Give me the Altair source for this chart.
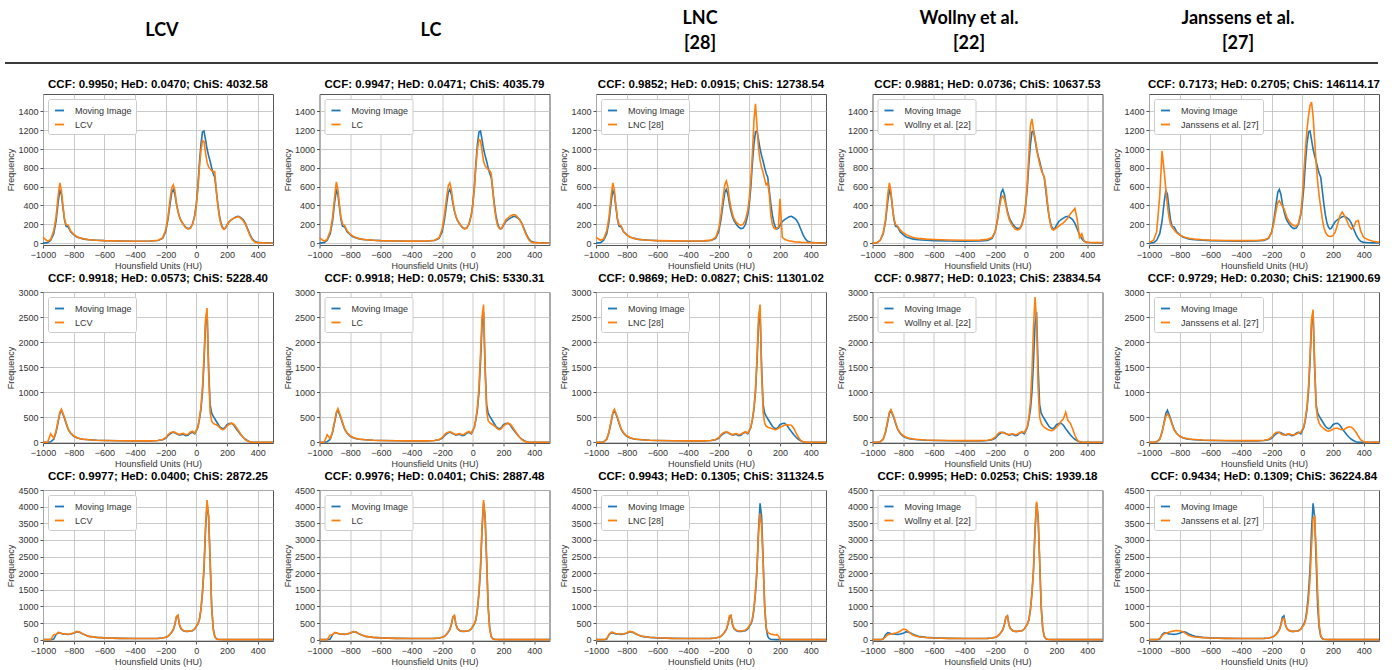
import altair as alt
import pandas as pd

# ---------------- data ----------------
X = ([-1000, -970, -950, -930, -915, -900, -890, -880, -870, -860, -850, -835, -820, -800, -780, -760, -740, -720, -700, -650, -600]
     + [-500, -400, -300, -250, -220, -200, -185, -170, -160, -150, -140, -130, -120, -110, -100, -85, -70, -55, -40, -25, -10]
     + [0, 10, 20, 30, 40, 50, 60, 70, 80, 90, 100, 110, 120, 130, 140, 150, 160, 170, 180, 190, 200]
     + [215, 230, 245, 260, 275, 290, 305, 320, 335, 350, 365, 380, 400, 430, 460, 500])

METHODS = ["LCV", "LC", "LNC [28]", "Wollny et al. [22]", "Janssens et al. [27]"]
HEADERS = ["LCV", "LC", "LNC\n[28]", "Wollny et al.\n[22]", "Janssens et al.\n[27]"]
HEADER_LINES = [1, 1, 2, 2, 2]

TITLES = [
    ["CCF: 0.9950; HeD: 0.0470; ChiS: 4032.58", "CCF: 0.9947; HeD: 0.0471; ChiS: 4035.79",
     "CCF: 0.9852; HeD: 0.0915; ChiS: 12738.54", "CCF: 0.9881; HeD: 0.0736; ChiS: 10637.53",
     "CCF: 0.7173; HeD: 0.2705; ChiS: 146114.17"],
    ["CCF: 0.9918; HeD: 0.0573; ChiS: 5228.40", "CCF: 0.9918; HeD: 0.0579; ChiS: 5330.31",
     "CCF: 0.9869; HeD: 0.0827; ChiS: 11301.02", "CCF: 0.9877; HeD: 0.1023; ChiS: 23834.54",
     "CCF: 0.9729; HeD: 0.2030; ChiS: 121900.69"],
    ["CCF: 0.9977; HeD: 0.0400; ChiS: 2872.25", "CCF: 0.9976; HeD: 0.0401; ChiS: 2887.48",
     "CCF: 0.9943; HeD: 0.1305; ChiS: 311324.5", "CCF: 0.9995; HeD: 0.0253; ChiS: 1939.18",
     "CCF: 0.9434; HeD: 0.1309; ChiS: 36224.84"],
]

X_TICKS = [-1000, -800, -600, -400, -200, 0, 200, 400]
Y_TICKS = [[0, 200, 400, 600, 800, 1000, 1200, 1400],
           [0, 500, 1000, 1500, 2000, 2500, 3000],
           [0, 500, 1000, 1500, 2000, 2500, 3000, 3500, 4000, 4500]]
Y_DOMAINS = [[-20, 1585], [-15, 3000], [-40, 4500]]

# Row 1 -------------------------------------------------------------
MOVING_1 = ([0, 5, 30, 100, 230, 450, 560, 520, 380, 250, 180, 170, 120, 90, 65, 55, 45, 40, 35, 30, 26]
            + [22, 20, 22, 28, 50, 120, 250, 430, 540, 570, 520, 420, 340, 280, 240, 200, 170, 155, 160, 200, 300]
            + [420, 600, 850, 1050, 1180, 1190, 1100, 1000, 930, 870, 800, 740, 700, 560, 420, 300, 220, 170, 150, 160, 190]
            + [230, 250, 265, 280, 285, 270, 250, 210, 150, 90, 45, 20, 8, 4, 3, 2])
LCV_1 = ([60, 20, 40, 130, 280, 520, 640, 560, 400, 260, 200, 190, 130, 95, 70, 58, 48, 42, 36, 30, 26]
         + [22, 20, 22, 30, 55, 140, 280, 480, 590, 620, 560, 430, 340, 280, 240, 200, 165, 150, 155, 200, 290]
         + [400, 570, 800, 980, 1090, 1080, 960, 860, 810, 790, 770, 760, 760, 560, 400, 280, 200, 160, 145, 160, 190]
         + [230, 250, 265, 275, 280, 265, 240, 200, 140, 80, 35, 12, 5, 3, 2, 2])
LC_1 = ([55, 20, 40, 125, 270, 510, 650, 570, 410, 270, 205, 185, 130, 95, 72, 58, 48, 42, 37, 31, 27]
        + [23, 21, 23, 31, 58, 150, 300, 500, 610, 640, 570, 440, 345, 285, 245, 205, 170, 152, 158, 205, 295]
        + [410, 580, 820, 1000, 1100, 1090, 980, 870, 820, 800, 780, 770, 740, 560, 390, 270, 195, 160, 150, 165, 200]
        + [245, 270, 290, 300, 300, 280, 250, 205, 140, 80, 35, 12, 5, 3, 2, 2])
LNC_1 = ([60, 30, 45, 130, 280, 520, 640, 560, 400, 260, 200, 180, 120, 90, 65, 55, 45, 40, 36, 30, 27]
         + [24, 22, 24, 32, 60, 150, 300, 500, 620, 660, 600, 470, 380, 310, 260, 220, 200, 190, 200, 250, 350]
         + [480, 680, 950, 1300, 1480, 1250, 1000, 880, 800, 750, 680, 620, 640, 520, 300, 200, 160, 150, 160, 170, 470]
         + [60, 40, 30, 24, 20, 16, 13, 11, 9, 7, 6, 5, 4, 3, 2, 2])
WOLLNY_1 = ([0, 5, 30, 110, 250, 520, 640, 560, 380, 260, 200, 180, 140, 110, 90, 75, 62, 55, 50, 42, 38]
            + [33, 30, 32, 40, 60, 120, 240, 400, 480, 500, 470, 400, 320, 260, 220, 180, 150, 140, 150, 190, 290]
            + [430, 650, 950, 1250, 1320, 1200, 1120, 1020, 920, 840, 780, 740, 700, 600, 450, 300, 200, 150, 140, 150, 160]
            + [180, 200, 215, 240, 270, 310, 340, 370, 250, 60, 100, 20, 8, 6, 5, 5])
JANSSENS_1 = ([5, 30, 120, 500, 980, 750, 560, 400, 280, 200, 170, 140, 110, 85, 70, 60, 52, 46, 42, 36, 32]
              + [28, 26, 28, 34, 55, 110, 220, 360, 430, 450, 420, 390, 370, 320, 270, 230, 200, 185, 180, 210, 320]
              + [500, 750, 1000, 1200, 1350, 1460, 1500, 1350, 1100, 850, 650, 500, 380, 260, 170, 120, 90, 75, 70, 72, 80]
              + [120, 200, 290, 330, 290, 240, 180, 150, 170, 230, 240, 130, 60, 35, 20, 10])

# Row 2 -------------------------------------------------------------
MOVING_2 = ([0, 0, 10, 60, 200, 420, 580, 640, 560, 480, 380, 250, 180, 120, 90, 70, 60, 55, 50, 40, 35]
            + [30, 28, 28, 35, 50, 80, 130, 170, 190, 200, 190, 170, 160, 140, 150, 160, 130, 140, 180, 200, 170]
            + [230, 300, 450, 650, 1000, 1600, 2350, 2600, 1500, 750, 580, 520, 470, 420, 370, 320, 290, 270, 280, 310, 350]
            + [375, 380, 340, 270, 210, 150, 100, 60, 30, 10, 3, 1, 0, 0, 0, 0])
LCV_2 = ([0, 0, 170, 80, 220, 450, 600, 660, 580, 500, 400, 260, 190, 130, 95, 75, 62, 56, 50, 40, 35]
         + [30, 28, 28, 35, 55, 90, 150, 190, 200, 210, 200, 180, 170, 150, 170, 180, 150, 160, 200, 220, 180]
         + [240, 300, 480, 700, 1100, 1700, 2450, 2680, 1400, 600, 420, 380, 360, 350, 330, 300, 270, 250, 260, 290, 330]
         + [360, 380, 360, 300, 230, 160, 100, 50, 20, 5, 2, 1, 0, 0, 0, 0])
LC_2 = ([0, 0, 150, 70, 210, 440, 600, 670, 590, 500, 400, 260, 190, 130, 95, 75, 62, 56, 50, 40, 35]
        + [30, 28, 28, 35, 55, 90, 150, 190, 200, 210, 200, 180, 165, 150, 165, 175, 150, 160, 195, 215, 180]
        + [240, 300, 470, 700, 1100, 1750, 2500, 2750, 1450, 620, 430, 390, 370, 350, 330, 300, 270, 250, 260, 290, 330]
        + [360, 380, 360, 300, 230, 160, 100, 50, 20, 5, 2, 1, 0, 0, 0, 0])
LNC_2 = ([0, 0, 10, 60, 210, 440, 600, 660, 580, 500, 400, 260, 190, 130, 95, 75, 62, 56, 50, 40, 35]
         + [30, 28, 28, 35, 55, 90, 150, 190, 200, 210, 200, 180, 165, 150, 165, 175, 150, 160, 190, 210, 180]
         + [240, 300, 460, 680, 1050, 1700, 2500, 2750, 1400, 600, 380, 320, 300, 290, 280, 270, 260, 250, 260, 280, 300]
         + [320, 340, 350, 345, 340, 280, 180, 100, 35, 8, 2, 1, 0, 0, 0, 0])
WOLLNY_2 = ([0, 0, 10, 60, 210, 450, 600, 650, 580, 500, 400, 260, 190, 135, 100, 80, 68, 60, 55, 45, 40]
            + [35, 32, 32, 40, 60, 100, 160, 200, 200, 190, 185, 170, 160, 150, 165, 170, 150, 160, 190, 210, 190]
            + [250, 320, 500, 800, 1400, 2300, 2900, 2400, 1100, 500, 380, 330, 300, 280, 260, 245, 235, 230, 250, 270, 300]
            + [350, 420, 470, 600, 430, 380, 270, 140, 45, 8, 2, 1, 0, 0, 0, 0])
JANSSENS_2 = ([0, 0, 10, 60, 200, 400, 520, 570, 520, 450, 360, 240, 175, 120, 95, 78, 68, 60, 55, 45, 40]
              + [35, 32, 32, 40, 60, 100, 160, 200, 200, 195, 170, 150, 145, 150, 165, 170, 150, 150, 160, 190, 200]
              + [250, 320, 480, 700, 1100, 1700, 2450, 2650, 1600, 700, 480, 380, 330, 300, 270, 250, 230, 220, 230, 245, 260]
              + [280, 280, 260, 250, 260, 290, 310, 300, 260, 200, 120, 50, 10, 3, 1, 0])

# Row 3 -------------------------------------------------------------
MOVING_3 = ([0, 0, 0, 20, 150, 210, 200, 185, 175, 170, 165, 160, 170, 190, 240, 220, 170, 130, 100, 70, 55]
            + [40, 35, 35, 40, 50, 70, 100, 170, 230, 300, 450, 680, 720, 450, 330, 270, 250, 250, 260, 270, 320]
            + [400, 470, 600, 900, 1400, 2100, 3300, 4100, 3700, 2400, 1000, 350, 100, 30, 10, 5, 3, 2, 2, 1, 1]
            + [1, 1, 1, 1, 1, 1, 1, 1, 1, 1, 1, 1, 1, 1, 1, 1])
LCV_3 = ([0, 0, 0, 150, 160, 220, 210, 190, 180, 175, 170, 165, 175, 200, 250, 225, 175, 130, 100, 70, 55]
         + [40, 35, 35, 40, 50, 70, 100, 170, 240, 310, 460, 700, 740, 460, 340, 275, 255, 255, 265, 275, 330]
         + [410, 480, 610, 920, 1450, 2200, 3400, 4200, 3700, 2350, 950, 320, 90, 25, 8, 4, 3, 2, 2, 1, 1]
         + [1, 1, 1, 1, 1, 1, 1, 1, 1, 1, 1, 1, 1, 1, 1, 1])
LC_3 = ([0, 0, 0, 140, 150, 210, 205, 190, 180, 175, 170, 165, 175, 200, 245, 225, 175, 130, 100, 70, 55]
        + [40, 35, 35, 40, 50, 70, 100, 170, 240, 310, 460, 690, 730, 460, 340, 275, 255, 255, 265, 275, 330]
        + [410, 480, 610, 920, 1450, 2200, 3400, 4200, 3700, 2350, 950, 320, 90, 25, 8, 4, 3, 2, 2, 1, 1]
        + [1, 1, 1, 1, 1, 1, 1, 1, 1, 1, 1, 1, 1, 1, 1, 1])
LNC_3 = ([0, 0, 0, 30, 160, 230, 220, 200, 185, 180, 175, 170, 180, 200, 250, 230, 180, 135, 105, 72, 56]
         + [40, 35, 35, 40, 50, 70, 100, 170, 240, 320, 470, 720, 740, 470, 340, 280, 260, 260, 270, 290, 350]
         + [420, 500, 640, 950, 1450, 2150, 3200, 3800, 3400, 2300, 1000, 350, 220, 190, 170, 160, 150, 140, 150, 110, 15]
         + [2, 1, 1, 1, 1, 1, 1, 1, 1, 1, 1, 1, 1, 1, 1, 1])
WOLLNY_3 = ([0, 0, 0, 20, 80, 150, 160, 170, 180, 190, 200, 220, 250, 320, 300, 220, 150, 110, 90, 65, 52]
            + [40, 35, 35, 40, 50, 70, 100, 170, 230, 300, 450, 680, 720, 450, 330, 270, 250, 250, 260, 270, 320]
            + [400, 470, 600, 900, 1400, 2100, 3300, 4150, 3700, 2400, 1000, 350, 100, 30, 10, 5, 3, 2, 2, 1, 1]
            + [1, 1, 1, 1, 1, 1, 1, 1, 1, 1, 1, 1, 1, 1, 1, 1])
JANSSENS_3 = ([0, 0, 0, 30, 120, 180, 195, 210, 225, 240, 250, 265, 275, 270, 240, 180, 125, 95, 80, 62, 50]
              + [40, 35, 35, 40, 50, 70, 100, 160, 220, 290, 430, 620, 640, 450, 330, 270, 250, 250, 260, 270, 310]
              + [380, 440, 560, 800, 1200, 1800, 2800, 3650, 3700, 2700, 1400, 450, 130, 40, 12, 5, 3, 2, 2, 1, 1]
              + [1, 1, 1, 1, 1, 1, 1, 1, 1, 1, 1, 1, 1, 1, 1, 1])

MOVING = [MOVING_1, MOVING_2, MOVING_3]
RESULTS = [[LCV_1, LC_1, LNC_1, WOLLNY_1, JANSSENS_1],
           [LCV_2, LC_2, LNC_2, WOLLNY_2, JANSSENS_2],
           [LCV_3, LC_3, LNC_3, WOLLNY_3, JANSSENS_3]]

for s in MOVING + [v for row in RESULTS for v in row]:
    assert len(s) == len(X), len(s)

BLUE = "#1f77b4"
ORANGE = "#ff7f0e"
FONT = "Liberation Sans"
PLOT_W = 230
PLOT_H = 151


def panel(r, c):
    label = METHODS[c]
    n = len(X)
    df = pd.DataFrame({
        "hu": X + X,
        "freq": MOVING[r] + RESULTS[r][c],
        "series": ["Moving Image"] * n + [label] * n,
    })
    color = alt.Color("series:N",
                      scale=alt.Scale(domain=["Moving Image", label], range=[BLUE, ORANGE]),
                      legend=alt.Legend(title=None))
    base = alt.Chart(df).encode(
        x=alt.X("hu:Q", scale=alt.Scale(domain=[-1000, 500], nice=False, zero=False),
                axis=alt.Axis(values=X_TICKS, title="Hounsfield Units (HU)", format="d")),
        y=alt.Y("freq:Q", scale=alt.Scale(domain=Y_DOMAINS[r], nice=False, zero=False),
                axis=alt.Axis(values=Y_TICKS[r], title="Frequency", format="d")),
        color=color,
    )
    moving = base.mark_line(strokeWidth=1.6).transform_filter(alt.datum.series == "Moving Image")
    method = base.mark_line(strokeWidth=1.6).transform_filter(alt.datum.series == label)
    return alt.layer(moving, method).properties(
        width=PLOT_W, height=PLOT_H,
        title=alt.TitleParams(TITLES[r][c], fontSize=11.5, fontWeight="bold", font=FONT,
                              color="black", frame="group", anchor="middle", offset=4),
    )


rows = []
for r in range(3):
    row = alt.hconcat(*[panel(r, c) for c in range(5)], spacing=5.5)
    row = row.resolve_scale(color="independent").resolve_legend(color="independent")
    rows.append(row)

grid = alt.vconcat(*rows, spacing=1).resolve_scale(color="independent").resolve_legend(color="independent")

# ---------------- header ----------------
header_df = pd.DataFrame({"name": HEADERS, "lines": HEADER_LINES})
HEADER_W = 1330
header_x = alt.X("name:N", sort=None,
                 scale=alt.Scale(type="point", padding=0.472, domain=HEADERS), axis=None)
text_style = dict(font="Liberation Sans Narrow, Lato, sans-serif", fontSize=18, fontWeight="bold",
                  lineBreak="\n", lineHeight=25, baseline="middle", align="center", dx=-8, color="black")
header_single = alt.Chart(header_df).mark_text(**text_style).encode(
    x=header_x, y=alt.value(30), text=alt.Text("name:N"),
).transform_filter(alt.datum.lines == 1)
header_double = alt.Chart(header_df).mark_text(**text_style).encode(
    x=header_x, y=alt.value(18), text=alt.Text("name:N"),
).transform_filter(alt.datum.lines == 2)
header_rule = alt.Chart(alt.Data(values=[{"a": 1}])).mark_rule(color="#3a3a3a", strokeWidth=2).encode(
    x=alt.value(-38), x2=alt.value(1335), y=alt.value(62)
)
header = alt.layer(header_single, header_double, header_rule).properties(
    width=HEADER_W, height=64, view=alt.ViewBackground(stroke="transparent")
)

chart = alt.vconcat(header, grid, spacing=12).resolve_scale(color="independent").resolve_legend(
    color="independent"
).properties(
    padding={"left": 3, "top": 0, "right": 5, "bottom": 0},
    background="white",
).configure_view(
    stroke="#555555", strokeWidth=1
).configure_axis(
    labelFont=FONT, labelFontSize=9, labelColor="#333333",
    titleFont=FONT, titleFontSize=9, titleFontWeight="normal", titleColor="#333333",
    gridColor="#bdbdbd", gridWidth=0.8, tickColor="#555555", tickSize=3,
    labelPadding=2, titlePadding=2, domain=False, labelFlush=False, labelOverlap=False,
).configure_legend(
    orient="top-left", offset=5, padding=4, fillColor="white", strokeColor="#cccccc",
    cornerRadius=2, labelFont=FONT, labelFontSize=9, labelColor="#333333",
    symbolType="M-0.7,0H0.7", symbolStrokeWidth=1.8, symbolSize=169, rowPadding=1, labelOffset=8,
)

chart.save("out.html", embed_options={"renderer": "svg", "actions": False})
